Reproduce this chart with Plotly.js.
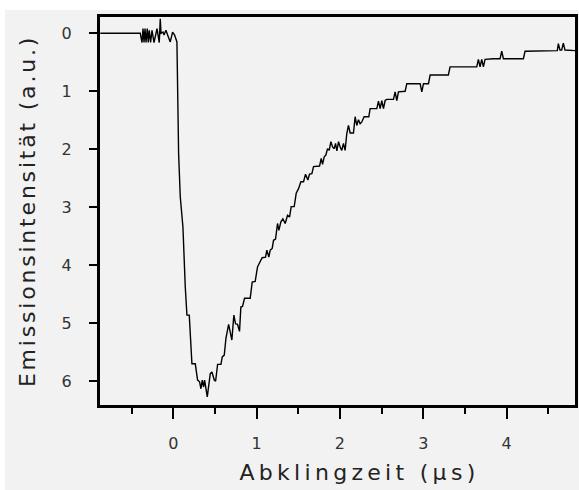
<!DOCTYPE html>
<html>
<head>
<meta charset="utf-8">
<script src="https://cdn.plot.ly/plotly-3.0.1.min.js"></script>
<style>
  html, body { margin: 0; padding: 0; background: #f2f2f2; }
  #chart { width: 579px; height: 490px; }
  .g-xtitle text { letter-spacing: 4.3px; translate: 22px 0; }
  .g-ytitle text { letter-spacing: 2.8px; }
</style>
</head>
<body>
<div id="chart"></div>
<script>
// Decay time (µs)
const timeUs = [
  -0.875, -0.396, -0.375, -0.363, -0.351, -0.339, -0.327, -0.312, -0.300, -0.288,
  -0.272, -0.255, -0.231, -0.195, -0.168, -0.156, -0.147, -0.123, -0.111, -0.088,
  -0.060, -0.036, -0.008, 0.016, 0.044, 0.064, 0.084, 0.116, 0.144, 0.164,
  0.192, 0.224, 0.264, 0.292, 0.316, 0.332, 0.348, 0.364, 0.376, 0.388,
  0.408, 0.444, 0.464, 0.492, 0.508, 0.532, 0.572, 0.588, 0.612, 0.632,
  0.664, 0.703, 0.727, 0.747, 0.771, 0.795, 0.811, 0.831, 0.855, 0.923,
  0.947, 0.983, 1.011, 1.031, 1.067, 1.107, 1.123, 1.147, 1.163, 1.187,
  1.203, 1.227, 1.251, 1.267, 1.291, 1.315, 1.343, 1.371, 1.395, 1.415,
  1.451, 1.475, 1.503, 1.531, 1.563, 1.587, 1.615, 1.635, 1.663, 1.683,
  1.755, 1.775, 1.791, 1.811, 1.831, 1.851, 1.871, 1.891, 1.911, 1.931,
  1.947, 1.963, 1.983, 2.002, 2.022, 2.042, 2.062, 2.082, 2.102, 2.122,
  2.162, 2.182, 2.202, 2.222, 2.242, 2.262, 2.290, 2.346, 2.362, 2.442,
  2.462, 2.482, 2.502, 2.522, 2.542, 2.562, 2.642, 2.662, 2.682, 2.702,
  2.732, 2.782, 2.802, 2.962, 2.982, 3.002, 3.062, 3.082, 3.301, 3.321,
  3.641, 3.661, 3.681, 3.701, 3.721, 3.741, 3.841, 3.921, 3.941, 3.961,
  4.201, 4.221, 4.608, 4.620, 4.640, 4.660, 4.680, 4.700, 4.820
];
// Emission intensity (a.u.), plotted on a reversed axis
const intensity = [
  0.00, 0.00, 0.16, -0.08, 0.16, -0.08, 0.16, -0.08, 0.16, -0.05,
  0.16, -0.05, 0.16, -0.08, 0.16, -0.25, 0.00, -0.02, 0.03, -0.05,
  0.06, 0.15, -0.02, 0.03, 0.15, 2.07, 2.82, 3.34, 4.37, 4.86,
  4.86, 5.70, 5.70, 5.98, 6.01, 6.13, 5.98, 6.10, 5.98, 6.13,
  6.27, 5.87, 5.84, 5.98, 6.00, 5.71, 5.71, 5.58, 5.55, 5.26,
  5.02, 5.29, 4.86, 5.01, 5.02, 5.14, 4.72, 4.71, 4.57, 4.57,
  4.29, 4.28, 4.03, 3.97, 3.87, 3.86, 3.74, 3.86, 3.74, 3.71,
  3.57, 3.55, 3.28, 3.40, 3.25, 3.20, 3.28, 3.14, 3.17, 2.99,
  2.99, 2.76, 2.68, 2.56, 2.56, 2.43, 2.53, 2.43, 2.42, 2.30,
  2.29, 2.16, 2.26, 2.13, 2.10, 1.99, 2.02, 1.87, 1.96, 1.99,
  1.90, 2.03, 1.87, 1.96, 2.02, 1.90, 2.02, 1.73, 1.59, 1.72,
  1.72, 1.44, 1.59, 1.49, 1.56, 1.53, 1.44, 1.44, 1.30, 1.30,
  1.17, 1.30, 1.16, 1.30, 1.16, 1.14, 1.14, 1.01, 1.16, 1.01,
  1.01, 1.00, 0.87, 0.87, 1.01, 0.87, 0.87, 0.72, 0.72, 0.58,
  0.58, 0.45, 0.58, 0.45, 0.58, 0.45, 0.44, 0.44, 0.31, 0.44,
  0.44, 0.31, 0.30, 0.18, 0.29, 0.29, 0.17, 0.29, 0.30
];
const xTickVals = [0, 1, 2, 3, 4];
const xTickText = ['0', '1', '2', '3', '4'];
const yTickVals = [0, 1, 2, 3, 4, 5, 6];
const yTickText = ['0', '1', '2', '3', '4', '5', '6'];

const trace = {
  x: timeUs,
  y: intensity,
  type: 'scatter',
  mode: 'lines',
  line: { color: '#000', width: 1.4 },
  hoverinfo: 'skip'
};

const layout = {
  width: 579,
  height: 490,
  margin: { l: 100, r: 4, t: 17, b: 85, pad: 0 },
  paper_bgcolor: '#f2f2f2',
  plot_bgcolor: '#f2f2f2',
  showlegend: false,
  font: { family: 'DejaVu Sans, sans-serif', color: '#222', size: 16 },
  xaxis: {
    range: [-0.879, 4.82],
    tickvals: xTickVals,
    ticktext: xTickText,
    ticks: 'outside',
    ticklen: 11,
    tickwidth: 2,
    tickcolor: '#000',
    ticklabelstandoff: 11,
    showline: true,
    linewidth: 3,
    linecolor: '#000',
    mirror: true,
    showgrid: false,
    zeroline: false,
    minor: { dtick: 0.5, tick0: 0, ticks: 'outside', ticklen: 6, tickwidth: 2, tickcolor: '#000', showgrid: false },
    tickfont: { size: 16, color: '#333' },
    title: { text: 'Abklingzeit (\u03bcs)', font: { size: 22, color: '#222' }, standoff: 13 }
  },
  yaxis: {
    range: [6.41, -0.28],
    tickvals: yTickVals,
    ticktext: yTickText,
    ticks: 'outside',
    ticklen: 8,
    tickwidth: 2,
    tickcolor: '#000',
    ticklabelstandoff: 14,
    showline: true,
    linewidth: 3,
    linecolor: '#000',
    mirror: true,
    showgrid: false,
    zeroline: false,
    tickfont: { size: 16, color: '#333' },
    title: { text: 'Emissionsintensität (a.u.)', font: { size: 22, color: '#222' }, standoff: 20 }
  },
  shapes: [
    { type: 'rect', xref: 'paper', yref: 'paper', x0: -0.22, x1: 1.02, y0: 1.0180, y1: 1.06, fillcolor: '#ffffff', line: { width: 0 }, layer: 'below' },
    { type: 'rect', xref: 'paper', yref: 'paper', x0: -0.22, x1: -0.2, y0: -0.23, y1: 1.06, fillcolor: '#ffffff', line: { width: 0 }, layer: 'below' }
  ]
};

Plotly.newPlot('chart', [trace], layout, { staticPlot: true, displayModeBar: false });
</script>
</body>
</html>
